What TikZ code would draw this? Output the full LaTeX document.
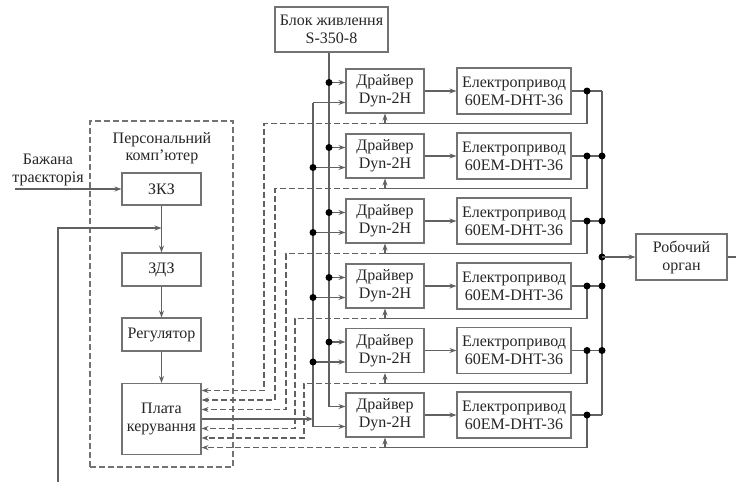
\documentclass[tikz,border=0pt]{standalone}
\usepackage{fontspec}
\setmainfont{Liberation Serif}
\usetikzlibrary{arrows.meta,calc}
\begin{document}
\begin{tikzpicture}[x=1pt,y=-1pt,
  ln/.style={draw=black!62, line width=1.1pt},
  arr/.style={ln, -{Stealth[length=7pt,width=5pt]}},
  dsh/.style={ln, dash pattern=on 6pt off 3pt},
  darr/.style={dsh, -{Stealth[length=7pt,width=5pt]}},
  box/.style={draw=black!55, line width=1.1pt, fill=white, align=center, inner sep=0pt,
    text=black!85, font=\fontsize{16}{18}\selectfont},
  txt/.style={align=center, inner sep=0pt, text=black!85, font=\fontsize{16}{17.5}\selectfont},
  dotn/.style={circle, fill=black, inner sep=0pt, minimum size=7pt}]
\useasboundingbox (0,0) rectangle (736,482);
\fill[white] (0,0) rectangle (736,482);

% PC dashed frame
\node[draw=black!55, line width=1.1pt, dash pattern=on 6pt off 3pt, minimum width=143pt, minimum height=346pt, inner sep=0pt] (pc) at (161.5,294) {};
\node[txt] (pct) at (162,148) {Персональний\\комп’ютер};
\node[txt] (bt) at (48,170) {Бажана\\траєкторія};

% left column
\node[box, minimum width=79pt, minimum height=32pt] (zkz) at (161.5,189) {ЗКЗ};
\node[box, minimum width=79pt, minimum height=33pt] (zdz) at (161.5,269.5) {ЗДЗ};
\node[box, minimum width=79pt, minimum height=33pt] (reg) at (161.5,334.5) {Регулятор};
\node[box, minimum width=79pt, minimum height=71pt] (plata) at (161.5,419) {Плата\\керування};

\coordinate (inL) at (15,189);
\draw[arr] (inL) -- (zkz.west);
\draw[arr] (zkz.south) -- (zdz.north);
\draw[arr] (zdz.south) -- (reg.north);
\draw[arr] (reg.south) -- (plata.north);
\coordinate (fbl) at (58,482);
\coordinate (jn) at (161.5,228);
\draw[arr] (fbl) |- (jn);

% power supply
\node[box, minimum width=113pt, minimum height=45pt] (psu) at (331.5,29.5) {Блок живлення\\S-350-8};

% bus x positions
\coordinate (pbx) at (329,0);
\coordinate (cbx) at (313,0);
\coordinate (ox) at (587,0);
\coordinate (bx) at (602,0);

% drivers and motors
\foreach \i/\c in {1/91,2/156,3/221,4/286,5/350.5,6/415} {
  \node[box, minimum width=78pt, minimum height=44pt] (d\i) at (385,\c) {Драйвер\\Dyn-2H};
  \node[box, minimum width=114pt, minimum height=46pt] (m\i) at (514,\c) {Електропривод\\60EM-DHT-36};
  \draw[arr] (d\i.east) -- (m\i.west);
  \coordinate (pin\i) at ($(d\i.west)+(0,-8.5)$);
  \coordinate (cin\i) at ($(d\i.west)+(0,11.5)$);
  \coordinate (fb\i) at ($(d\i.south)+(0,10)$);
  \coordinate (o\i) at (ox |- m\i.east);
}

% Plata connection points
\foreach \i/\o in {1/-28.5,2/-19,3/-9.5,4/9.5,5/19,6/28.5} {
  \coordinate (pl\i) at ($(plata.east)+(0,\o)$);
}

% dashed feedback to Plata
\foreach \i/\vx in {1/264,2/275,3/286,4/295,5/304} {
  \draw[darr] (fb\i) -- (\vx,0 |- fb\i) -- (\vx,0 |- pl\i) -- (pl\i);
}
\draw[darr] (fb6) -- (plata.east |- fb6);

% plata output to control bus
\draw[arr] (plata.east) -- (cbx |- plata.east);

% power bus
\draw[ln] (psu.south -| pbx) -- (pbx |- pin6);
\foreach \i in {1,...,6} { \draw[arr] (pbx |- pin\i) -- (pin\i); }
\foreach \i in {1,...,5} { \node[dotn] (pd\i) at (pbx |- pin\i) {}; }

% control bus
\draw[ln] (cbx |- cin1) -- (cbx |- cin6);
\foreach \i in {1,...,6} { \draw[arr] (cbx |- cin\i) -- (cin\i); }
\foreach \i in {2,...,5} { \node[dotn] (cd\i) at (cbx |- cin\i) {}; }

% motor outputs, feedback to drivers
\foreach \i in {1,...,6} {
  \draw[ln] (m\i.east) -- (bx |- m\i.east);
  \draw[ln] (o\i) |- (fb\i);
  \draw[arr] (fb\i) -- (d\i.south);
  \node[dotn] (od\i) at (o\i) {};
}
\draw[ln] (bx |- m1.east) -- (bx |- m6.east);
\foreach \i in {2,...,5} { \node[dotn] (bd\i) at (bx |- m\i.east) {}; }

% working organ
\node[box, minimum width=91pt, minimum height=46pt] (ro) at (681.5,257) {Робочий\\орган};
\node[dotn] (rod) at (bx |- ro.west) {};
\draw[arr] (rod.center) -- (ro.west);
\coordinate (outR) at (736,257);
\draw[ln] (ro.east) -- (outR);
\end{tikzpicture}
\end{document}
